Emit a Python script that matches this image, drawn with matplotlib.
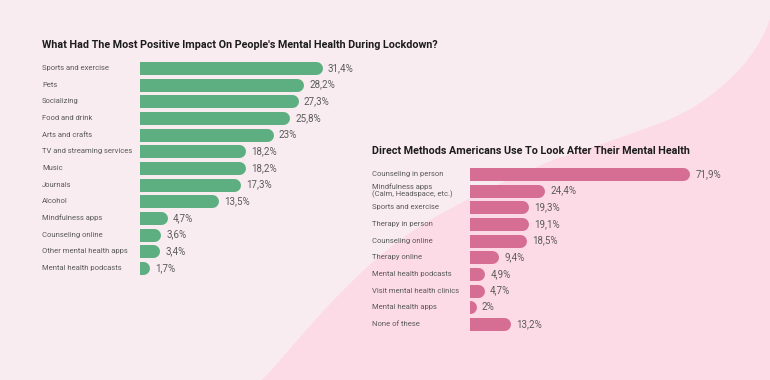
import numpy as np
import matplotlib
matplotlib.use("Agg")
import matplotlib.pyplot as plt
from matplotlib.patches import Polygon
from matplotlib.transforms import blended_transform_factory

# --- data ---
left_title = "What Had The Most Positive Impact On People's Mental Health During Lockdown?"
left_cats = ["Sports and exercise", "Pets", "Socializing", "Food and drink", "Arts and crafts",
             "TV and streaming services", "Music", "Journals", "Alcohol", "Mindfulness apps",
             "Counseling online", "Other mental health apps", "Mental health podcasts"]
left_vals = [31.4, 28.2, 27.3, 25.8, 23, 18.2, 18.2, 17.3, 13.5, 4.7, 3.6, 3.4, 1.7]
left_labels = ["31,4%", "28,2%", "27,3%", "25,8%", "23%", "18,2%", "18,2%", "17,3%", "13,5%",
               "4,7%", "3,6%", "3,4%", "1,7%"]

right_title = "Direct Methods Americans Use To Look After Their Mental Health"
right_cats = ["Counseling in person", "Mindfulness apps\n(Calm, Headspace, etc.)", "Sports and exercise",
              "Therapy in person", "Counseling online", "Therapy online", "Mental health podcasts",
              "Visit mental health clinics", "Mental health apps", "None of these"]
right_vals = [71.9, 24.4, 19.3, 19.1, 18.5, 9.4, 4.9, 4.7, 2, 13.2]
right_labels = ["71,9%", "24,4%", "19,3%", "19,1%", "18,5%", "9,4%", "4,9%", "4,7%", "2%", "13,2%"]

W, H = 770, 380
BG = "#f9ecf0"
BLOB = "#fddbe6"
GREEN = "#5dae80"
PINK = "#d66d93"
TXT = "#5a5a5a"

plt.rcParams['font.family'] = ['Roboto', 'DejaVu Sans']

fig = plt.figure(figsize=(W / 100, H / 100), dpi=100)
fig.patch.set_facecolor(BG)

# background curved shape, edge traced in pixels, smoothed a bit (chaikin)
edge = np.array([(250, 388), (263, 380), (300, 337), (333, 300), (377, 257), (423, 223),
                 (480, 193), (520, 174), (560, 157), (593, 147), (633, 133), (677, 117),
                 (710, 97), (740, 70), (760, 43), (770, 20), (776, -5)], dtype=float)
for _ in range(3):
    q = 0.75 * edge[:-1] + 0.25 * edge[1:]
    r = 0.25 * edge[:-1] + 0.75 * edge[1:]
    sm = np.empty((2 * len(q), 2))
    sm[0::2], sm[1::2] = q, r
    edge = np.vstack([edge[:1], sm, edge[-1:]])
edge = np.vstack([edge, [(776, 388)]])
pts = np.column_stack([edge[:, 0] / W, 1 - edge[:, 1] / H])
fig.patches.append(Polygon(pts, closed=True, transform=fig.transFigure,
                           facecolor=BLOB, edgecolor="none", zorder=-5))


def px_box(x0, y0, x1, y1):
    return [x0 / W, 1 - y1 / H, (x1 - x0) / W, (y1 - y0) / H]


def draw_panel(box, cats, vals, labels, color, xmax, label_x, title, title_y, bar_px=13):
    ax = fig.add_axes(box)
    ax.set_zorder(2)
    ax.set_facecolor("none")
    n = len(cats)
    ax.set_xlim(0, xmax)
    ax.set_ylim(n - 0.5, -0.5)
    ax.axis("off")
    # rounded right end: line with round cap, end pulled back by cap radius
    ax_w_px = box[2] * W
    r_data = (bar_px / 2) / (ax_w_px / xmax)
    lw = bar_px * 72 / 100
    y = np.arange(n)
    for yi, v in zip(y, vals):
        ax.plot([-r_data * 2, max(v - r_data, 0)], [yi, yi], color=color, lw=lw,
                solid_capstyle="round", zorder=2)
        ax.annotate(labels[yi], (v, yi), xytext=(4, 0), textcoords="offset points",
                    ha="left", va="center", fontsize=7.0, color=TXT)
    tr = blended_transform_factory(fig.transFigure, ax.transData)
    for yi, c in zip(y, cats):
        ax.text(label_x / W, yi, c, transform=tr, ha="left", va="center",
                fontsize=5.5, color=TXT, linespacing=1.0)
    fig.text(label_x / W, 1 - title_y / H, title, ha="left", va="center",
             fontsize=7.75, fontweight="bold", color="#1c1c1c")
    return ax


# left panel: rows 68..268 px, bars start at x=140
sp = 200 / 12
draw_panel(px_box(140, 68 - sp / 2, 372, 268 + sp / 2), left_cats, left_vals, left_labels,
           GREEN, 40, 42, left_title, 45)
# right panel: rows 174..324 px, bars start at x=470
sp2 = 150 / 9
draw_panel(px_box(470, 174 - sp2 / 2, 745, 324 + sp2 / 2), right_cats, right_vals, right_labels,
           PINK, 90, 372, right_title, 151)

fig.savefig("out.png", dpi=100, facecolor=fig.get_facecolor())
